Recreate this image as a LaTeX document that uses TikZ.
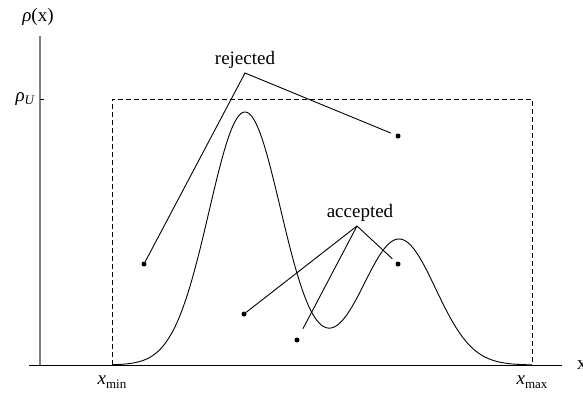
\documentclass[tikz,border=0pt]{standalone}
\usepackage{fontspec}
\setmainfont{Liberation Serif}
\begin{document}
\begin{tikzpicture}[x=1pt,y=-1pt,
  every node/.style={font=\fontsize{19}{22}\selectfont, inner sep=0pt},
  thin line/.style={line width=0.9pt},
  leader/.style={line width=0.9pt, shorten >=5pt},
  sample/.style={circle, fill=black, minimum size=5pt, inner sep=0pt},
  bound/.style={line width=0.9pt, dash pattern=on 5pt off 3pt}]
\useasboundingbox (0,0) rectangle (583,392);
% axes
\draw[line width=1.2pt, black!50] (40,36) -- (40,365);
\draw[line width=1pt] (29,365) -- (562,365);
\draw[thin line] (40,99) -- (44,99);
% labels on axes
\node (rhox) at (38,17) {\textit{ρ}(x)};
\node[anchor=east] (rhoU) at (35,99) {\textit{ρ}\raisebox{-0.35ex}{\fontsize{13}{15}\selectfont\textit{U}}};
\node (xmin) at (112,382) {\textit{x}\raisebox{-0.45ex}{\fontsize{13}{15}\selectfont min}};
\node (xmax) at (532,382) {\textit{x}\raisebox{-0.45ex}{\fontsize{13}{15}\selectfont max}};
\node[anchor=west] (xlab) at (577,365) {x};
% bounding box
\draw[bound] (112,365) -- (112,99) -- (532,99) -- (532,365);
% density
\draw[thin line, domain=112:532, samples=200, smooth, variable=\t]
  plot (\t, {365 - 253*exp(-0.5*((\t-245)/36)^2) - 126*exp(-0.5*((\t-399)/36.6)^2)});
% sample points
\node[sample] (r1) at (144,264) {};
\node[sample] (r2) at (398,136) {};
\node[sample] (a1) at (398,264) {};
\node[sample] (a2) at (244,314) {};
\node[sample] (a3) at (297,340) {};
% labels
\node (rej) at (245,60) {rejected};
\node (acc) at (360,213) {accepted};
\coordinate (rejtip) at (245,73);
\coordinate (acctip) at (357,226);
\draw[leader] (r1) -- (rejtip) -- (r2);
\draw[leader, shorten <=5pt, shorten >=0pt] (a1) -- (acctip) -- (a2);
\draw[leader, shorten >=0pt, shorten <=10pt] (a3) -- (acctip);
\end{tikzpicture}
\end{document}
